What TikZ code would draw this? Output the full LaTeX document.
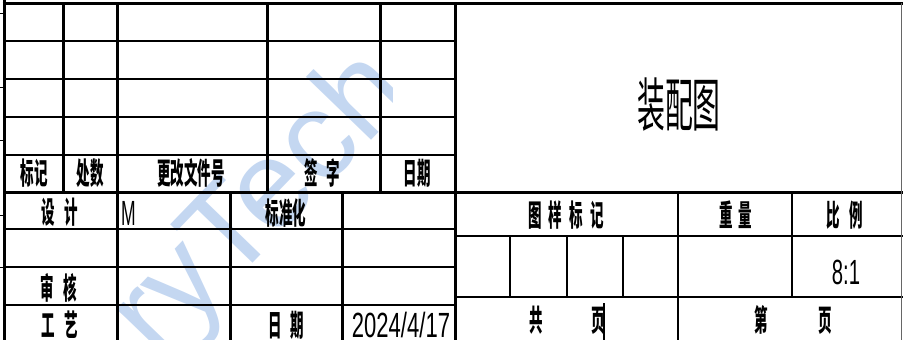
\documentclass[tikz,border=0pt]{standalone}
\usepackage{fontspec}
\usepackage{graphicx}
\setmainfont{Liberation Sans}
\newfontfamily\cjk{Noto Sans CJK SC}
\definecolor{wmblue}{RGB}{196,215,241}
\newcommand\cadb[1]{\scalebox{0.45}[1]{\cjk\bfseries\fontsize{30}{30}\selectfont #1}}
\newcommand\cadthin[1]{\scalebox{0.48}[1]{\cjk\fontsize{58}{58}\selectfont #1}}
\newcommand\cadnum[2]{\scalebox{#1}[1]{\fontsize{35}{35}\selectfont #2}}
\begin{document}
\begin{tikzpicture}[x=1pt,y=-1pt,
  thk/.style={line width=3pt},
  thn/.style={line width=2pt},
  fine/.style={line width=1.5pt},
  lbl/.style={inner sep=0pt, anchor=center}]
\useasboundingbox (0,0) rectangle (903,340);
% watermark
\begin{scope}
\clip (0,0) rectangle (392,340);
\node[rotate=46, anchor=base west, text=wmblue, inner sep=0pt] (wmark) at (158,362) {\fontsize{125}{125}\selectfont ryTech};
\end{scope}
% grid lines
\foreach \y in {41,79,117,155,229,267,305} \draw[thn] (4,\y) -- (455,\y);
\draw[thk] (2.5,3) -- (903,3);
\draw[thk] (4,0) -- (4,340);
\draw[thk] (4,192) -- (903,192);
\foreach \x in {63,267,380} \draw[thk] (\x,3) -- (\x,192);
\foreach \x in {117,455} \draw[thk] (\x,3) -- (\x,340);
\foreach \x in {230,342} \draw[thk] (\x,192) -- (\x,340);
\draw[fine] (455,236) -- (903,236);
\draw[fine] (455,297) -- (903,297);
\draw[fine] (678,192) -- (678,340);
\draw[fine] (792,192) -- (792,297);
\foreach \x in {510,567,623} \draw[fine] (\x,236) -- (\x,297);
\draw[line width=1pt, black!60] (901,3) -- (901,340);
\foreach \y in {13,87,140,215,267} \draw[line width=1pt] (0,\y) -- (4,\y);
\draw[line width=2.5pt] (604,303) -- (604,340);
% labels
\node[lbl] (t1) at (34,173) {\cadb{标记}};
\node[lbl] (t2) at (90,173) {\cadb{处数}};
\node[lbl] (t3) at (191,173) {\cadb{更改文件号}};
\node[lbl] (t4) at (322,173) {\cadb{签\hspace{20pt}字}};
\node[lbl] (t5) at (417,173) {\cadb{日期}};
\node[lbl] (t6) at (60,212) {\cadb{设\hspace{22pt}计}};
\node[lbl, anchor=west] (t7) at (121,213) {\cadnum{0.5}{M}};
\node[lbl] (t8) at (286,213) {\cadb{标准化}};
\node[lbl] (t9) at (59,288) {\cadb{审\hspace{22pt}核}};
\node[lbl] (t10) at (60,325) {\cadb{工\hspace{22pt}艺}};
\node[lbl] (t11) at (286,325) {\cadb{日\hspace{20pt}期}};
\node[lbl] (t12) at (401,325) {\cadnum{0.63}{2024/4/17}};
\node[lbl] (t13) at (566,215) {\cadb{图\hspace{16pt}样\hspace{16pt}标\hspace{16pt}记}};
\node[lbl] (t14) at (736,215) {\cadb{重\hspace{13pt}量}};
\node[lbl] (t15) at (845,215) {\cadb{比\hspace{22pt}例}};
\node[lbl] (t16) at (846,272) {\cadnum{0.58}{8:1}};
\node[lbl] (t17) at (567,320) {\cadb{共\hspace{107pt}页}};
\node[lbl] (t18) at (793,320) {\cadb{第\hspace{113pt}页}};
\node[lbl] (t19) at (679,105) {\cadthin{装配图}};
\end{tikzpicture}
\end{document}
